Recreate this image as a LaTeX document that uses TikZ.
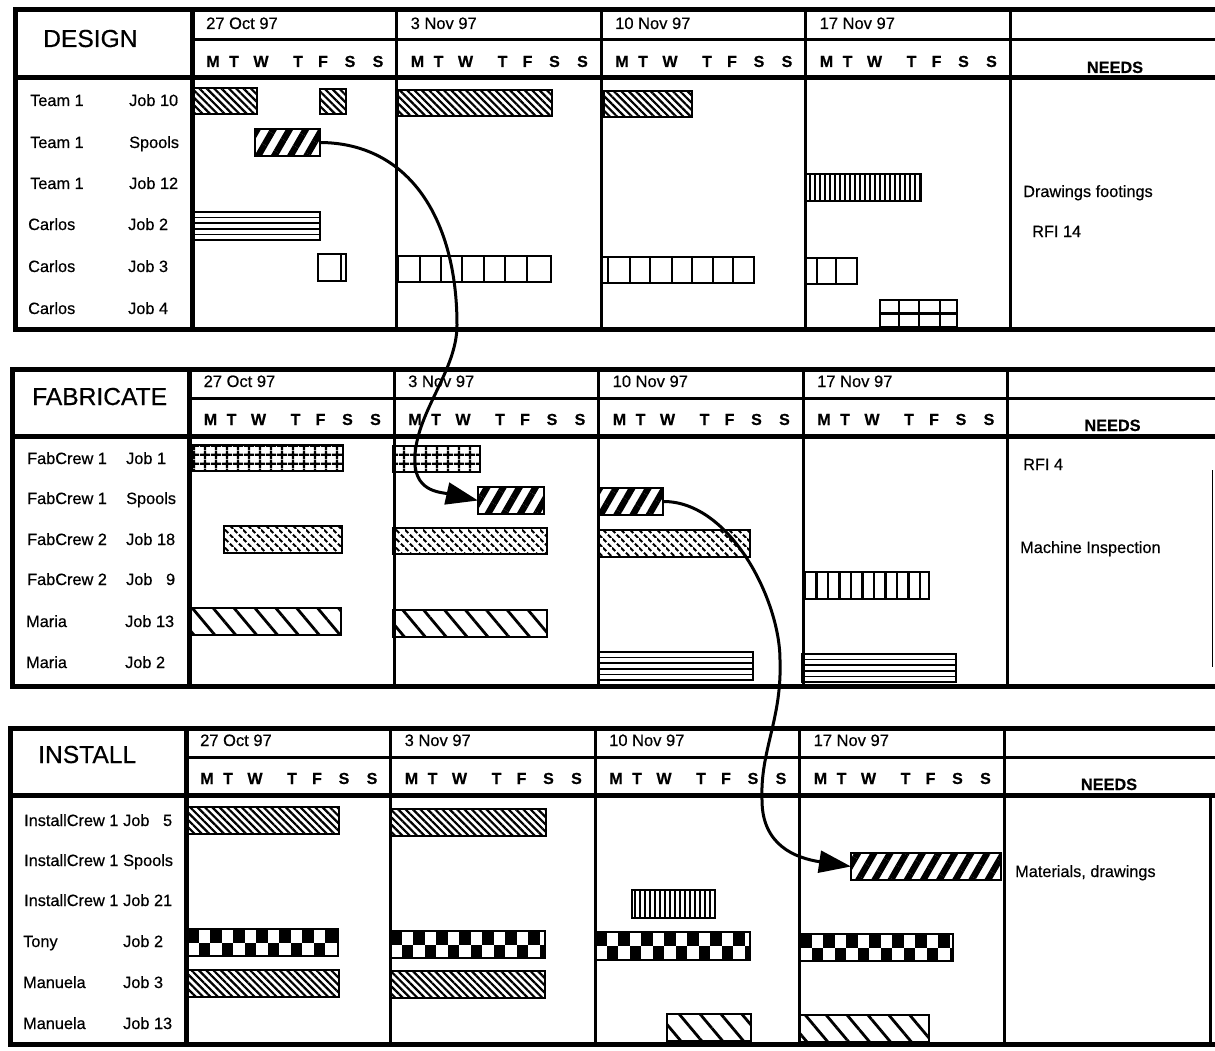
\documentclass[tikz,border=0pt]{standalone}
\usepackage{fontspec}
\setmainfont{Liberation Sans}[FakeBold=0.5]
\usetikzlibrary{patterns,patterns.meta,arrows.meta}

\pgfdeclarepatternformonly{fgrid}{\pgfpointorigin}{\pgfpoint{10.5pt}{8.7pt}}{\pgfpoint{10.5pt}{8.7pt}}{%
  \pgfsetlinewidth{2.5pt}%
  \pgfpathmoveto{\pgfpoint{5.25pt}{0pt}}\pgfpathlineto{\pgfpoint{5.25pt}{8.7pt}}%
  \pgfpathmoveto{\pgfpoint{0pt}{4.35pt}}\pgfpathlineto{\pgfpoint{10.5pt}{4.35pt}}%
  \pgfusepath{stroke}}
\pgfdeclarepatternformonly{dashb}{\pgfpointorigin}{\pgfpoint{9pt}{9pt}}{\pgfpoint{9pt}{9pt}}{%
  \pgfsetlinewidth{2.2pt}%
  \pgfpathmoveto{\pgfpoint{0pt}{9pt}}\pgfpathlineto{\pgfpoint{3.6pt}{5.4pt}}%
  \pgfpathmoveto{\pgfpoint{5.4pt}{3.6pt}}\pgfpathlineto{\pgfpoint{9pt}{0pt}}%
  \pgfusepath{stroke}}

\tikzset{
  thk/.style={line width=5pt, line cap=rect},
  med/.style={line width=3pt},
  barbox/.style={draw, rectangle, line width=2.6pt, inner sep=0pt, outer sep=0pt, anchor=north west},
  cellline/.style={line width=2.6pt},
  dback/.style={pattern={Lines[angle=-45,distance=5.2pt,line width=2.2pt]}},
  wslash/.style={pattern={Lines[angle=60,distance=14pt,line width=6.5pt]}},
  wback/.style={pattern={Lines[angle=-50,distance=16pt,line width=2.8pt]}},
  vdense/.style={pattern={Lines[angle=90,distance=5pt,line width=2.4pt]}},
  vcell/.style={pattern={Lines[angle=90,distance=11.5pt,line width=2.8pt]}},
  fgridp/.style={pattern=fgrid},
  dashp/.style={pattern=dashb},
  lab/.style={anchor=base west, inner sep=0pt, font=\fontsize{16.3}{19}\selectfont},
  datel/.style={anchor=base west, inner sep=0pt, font=\fontsize{16.5}{19}\selectfont},
  ttl/.style={anchor=base west, inner sep=0pt, font=\fontsize{24.6}{28}\selectfont},
  dayl/.style={anchor=base, inner sep=0pt, font=\fontsize{16}{18}\selectfont\bfseries},
  needsl/.style={anchor=base, inner sep=0pt, font=\fontsize{16.3}{18}\selectfont\bfseries},
  conn/.style={line width=3pt, -{Triangle[length=32pt,width=22pt]}}
}

% #1 prefix, #2 L, #3 C, #4 T, #5 D, #6 H, #7 B
\newcommand\panel[7]{%
  \draw[thk] (#2,#4) -- (1216,#4);
  \draw[thk] (#2,#6) -- (1216,#6);
  \draw[thk] (#2,#7) -- (1216,#7);
  \draw[thk] (#2,#4) -- (#2,#7);
  \draw[thk] (#3,#4) -- (#3,#7);
  \draw[med] (#3,#5) -- (1216,#5);
  \foreach \kk in {1,...,4} \draw[med] ({#3+204.5*\kk},#4) -- ({#3+204.5*\kk},#7);
  \foreach \kk/\dl in {0/27 Oct 97,1/3 Nov 97,2/10 Nov 97,3/17 Nov 97}{%
    \node[datel] (#1-date\kk) at ({#3+204.5*\kk+14}, #5-11) {\dl};
    \foreach \ofs/\dn [count=\jj] in {21/M,42/T,69/W,106/T,131/F,158/S,186/S}
      \node[dayl] (#1-day\kk-\jj) at ({#3+204.5*\kk+\ofs}, #6-11) {\dn};
  }
  \node[needsl] (#1-needs) at ({#3+818+105}, #6-5) {NEEDS};
}

% bar: name, x1, y1, x2, y2, style
\newcommand\gb[6]{%
  \node[barbox, minimum width={#4pt-#2pt}, minimum height={#5pt-#3pt}, #6] (#1) at (#2,#3) {};}
% horizontal-lined bar
\newcommand\hb[5]{%
  \gb{#1}{#2}{#3}{#4}{#5}{}
  \foreach \kk in {1,...,4} \draw[line width=1.6pt] (#2,{#3+(#5-#3)*\kk/5}) -- (#4,{#3+(#5-#3)*\kk/5});}
% checkerboard bar
\newcommand\ckb[5]{%
  \begin{scope}
    \clip (#2,#3) rectangle (#4,#5);
    \foreach \ii in {0,...,13}{%
      \pgfmathsetmacro\cx{#2+11.5*\ii}
      \ifodd\ii
        \fill (\cx,{(#3+#5)/2}) rectangle ++(11.5,{(#5-#3)/2});
      \else
        \fill (\cx,#3) rectangle ++(11.5,{(#5-#3)/2});
      \fi
    }
  \end{scope}
  \gb{#1}{#2}{#3}{#4}{#5}{}}
% row labels
\newcommand\rowlab[6]{\node[lab] (#1n) at (#2,#4) {#5}; \node[lab] (#1j) at (#3,#4) {#6};}

\begin{document}
\begin{tikzpicture}[x=1pt,y=-1pt]
\useasboundingbox (0,0) rectangle (1215,1051);
\fill[white] (0,0) rectangle (1215,1051);

% ---------- panels ----------
\panel{d}{15.5}{192}{10}{40}{78}{329}
\panel{f}{12.5}{189.5}{369}{398}{436}{686}
\panel{i}{10.5}{186}{728}{757}{795}{1044}
\draw[med] (1210,795) -- (1210,1044);
\draw[line width=1pt] (1212,470) -- (1212,667);

\node[ttl] (d-title) at (43,47) {DESIGN};
\node[ttl] (f-title) at (32,405) {FABRICATE};
\node[ttl] (i-title) at (38,763) {INSTALL};

% ---------- row labels ----------
\rowlab{d1}{30}{129}{106}{Team 1}{Job 10}
\rowlab{d2}{30}{129}{148}{Team 1}{Spools}
\rowlab{d3}{30}{129}{189}{Team 1}{Job 12}
\rowlab{d4}{28}{128}{230}{Carlos}{Job 2}
\rowlab{d5}{28}{128}{272}{Carlos}{Job 3}
\rowlab{d6}{28}{128}{314}{Carlos}{Job 4}

\rowlab{f1}{27}{126}{464}{FabCrew 1}{Job 1}
\rowlab{f2}{27}{126}{504}{FabCrew 1}{Spools}
\rowlab{f3}{27}{126}{545}{FabCrew 2}{Job 18}
\rowlab{f4}{27}{126}{585}{FabCrew 2}{Job \phantom{1}9}
\rowlab{f5}{26}{125}{627}{Maria}{Job 13}
\rowlab{f6}{26}{125}{668}{Maria}{Job 2}

\rowlab{i1}{24}{123}{826}{InstallCrew 1}{Job \phantom{2}5}
\rowlab{i2}{24}{123}{866}{InstallCrew 1}{Spools}
\rowlab{i3}{24}{123}{906}{InstallCrew 1}{Job 21}
\rowlab{i4}{23}{123}{947}{Tony}{Job 2}
\rowlab{i5}{23}{123}{988}{Manuela}{Job 3}
\rowlab{i6}{23}{123}{1029}{Manuela}{Job 13}

% ---------- needs ----------
\node[lab] (d-need1) at (1023,197) {Drawings footings};
\node[lab] (d-need2) at (1032,237) {RFI 14};
\node[lab] (f-need1) at (1023,470) {RFI 4};
\node[lab] (f-need2) at (1020,553) {Machine Inspection};
\node[lab] (i-need1) at (1015,877) {Materials, drawings};

% ---------- DESIGN bars ----------
\gb{d1a}{194}{88}{257}{114}{dback}
\gb{d1b}{320}{89}{346}{114}{dback}
\gb{d1c}{398}{90}{552}{116}{dback}
\gb{d1d}{604}{91}{692}{117}{dback}
\gb{d2}{255}{129}{320}{156}{wslash}
\gb{d3}{806}{174}{921}{201}{vdense}
\hb{d4}{193}{212}{320}{240}
\gb{d5a}{318}{254}{346}{281}{}
\draw[cellline] (341,254) -- (341,281);
\gb{d5b}{398}{256}{551}{282}{}
\foreach \xx in {420,441,462,484,505,527} \draw[cellline] (\xx,256) -- (\xx,282);
\gb{d5c}{602}{257}{754}{283}{}
\foreach \xx in {608,630,650,672,692,713,733} \draw[cellline] (\xx,257) -- (\xx,283);
\gb{d5d}{805}{258}{857}{284}{}
\foreach \xx in {817,836} \draw[cellline] (\xx,258) -- (\xx,284);
\gb{d6}{880}{300}{957}{327}{}
\foreach \xx in {899,919,940} \draw[cellline] (\xx,300) -- (\xx,327);
\draw[cellline] (880,313.5) -- (957,313.5);

% ---------- FABRICATE bars ----------
\gb{f1a}{192}{445}{343}{471}{fgridp}
\gb{f1b}{393}{446}{480}{472}{fgridp}
\gb{f2a}{478}{487}{544}{514}{wslash}
\gb{f2b}{599}{488}{663}{515}{wslash}
\gb{f3a}{224}{526}{342}{553}{dashp}
\gb{f3b}{393}{528}{547}{554}{dashp}
\gb{f3c}{599}{530}{750}{557}{dashp}
\gb{f4}{803}{572}{929}{599}{vcell}
\gb{f5a}{190}{608}{341}{635}{wback}
\gb{f5b}{393}{610}{547}{637}{wback}
\hb{f6a}{598}{652}{753}{680}
\hb{f6b}{802}{654}{956}{682}

% ---------- INSTALL bars ----------
\gb{i1a}{188}{807}{339}{834}{dback}
\gb{i1b}{390}{809}{546}{836}{dback}
\gb{i2}{851}{853}{1001}{880}{wslash}
\gb{i3}{632}{890}{715}{918}{vdense}
\ckb{i4a}{187}{929}{338}{956}
\ckb{i4b}{390}{931}{545}{958}
\ckb{i4c}{595}{932}{750}{960}
\ckb{i4d}{800}{934}{953}{961}
\gb{i5a}{185}{970}{339}{997}{dback}
\gb{i5b}{390}{971}{545}{998}{dback}
\gb{i6a}{667}{1014}{751}{1041}{wback}
\gb{i6b}{800}{1015}{929}{1042}{wback}

% ---------- connectors ----------
\draw[conn] (d2.east) .. controls (410,143) and (457,220) .. (457,325)
  .. controls (457,370) and (418,410) .. (415,455)
  .. controls (412,492) and (440,492) .. (f2a.west);
\draw[conn] (f2b.east) .. controls (730,501) and (780,600) .. (780,660)
  .. controls (782,720) and (760,750) .. (762,800)
  .. controls (762,845) and (795,858) .. (i2.west);
\end{tikzpicture}
\end{document}
